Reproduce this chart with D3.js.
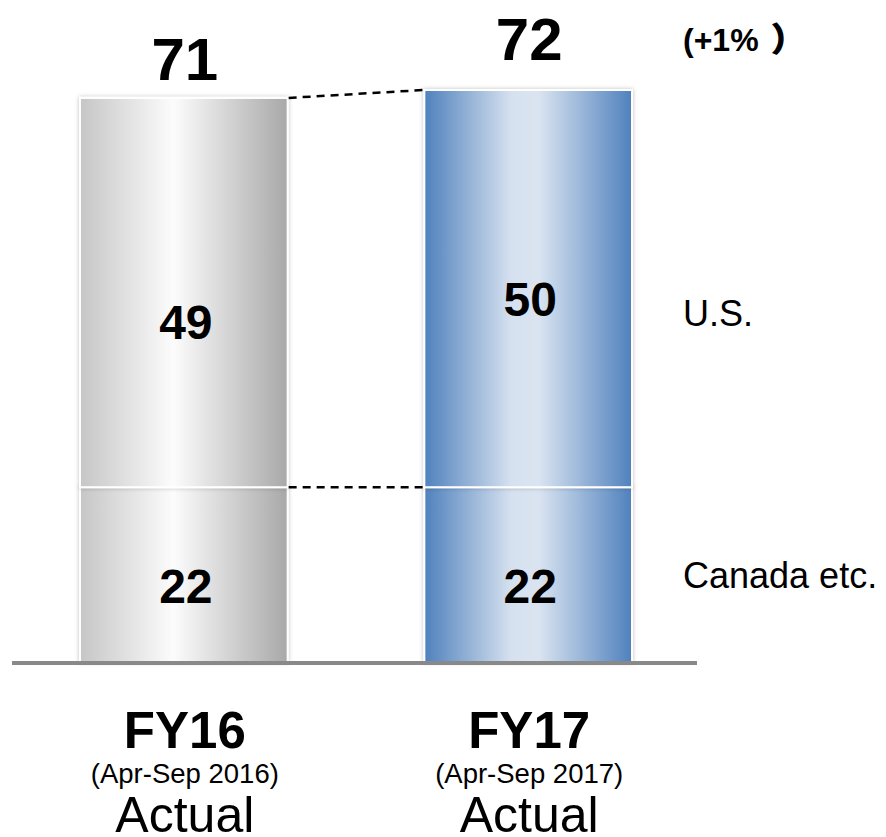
<!DOCTYPE html>
<html>
<head>
<meta charset="utf-8">
<script src="https://cdn.jsdelivr.net/npm/d3@7"></script>
<style>
  body { margin: 0; background: #fff; }
  text { font-family: "Liberation Sans", Arial, sans-serif; }
</style>
</head>
<body>
<svg width="886" height="837"></svg>
<script>
const periods = ['FY16', 'FY17'];
const subLabels = ['(Apr-Sep 2016)', '(Apr-Sep 2017)'];
const kindLabels = ['Actual', 'Actual'];
const regions = ['Canada etc.', 'U.S.'];
const canada = [22, 22];
const us = [49, 50];
const totals = [71, 72];
const growthLabel = ['(+1%', '）'];

const svg = d3.select('svg');

let data = periods.map(function (p, i) {
    return {period: p, canada: canada[i], us: us[i], total: totals[i]};
});

const x = d3.scaleBand().domain(periods).range([80, 632]).paddingInner(0.397).paddingOuter(0);
const y = d3.scaleLinear().domain([0, 72]).range([662, 90]);

// gradients
let defs = svg.append('defs');
let grads = [
    {id: 'g0', stops: [['0%', '#c6c6c6'], ['45%', '#fcfcfc'], ['100%', '#a8a8a8']]},
    {id: 'g1', stops: [['0%', '#4f81bd'], ['42%', '#d6e1ef'], ['55%', '#dae4f1'], ['100%', '#4f81bd']]}
];
grads.forEach(function (g) {
    let lg = defs.append('linearGradient').attr('id', g.id)
        .attr('x1', '0%').attr('x2', '100%').attr('y1', '0%').attr('y2', '0%');
    g.stops.forEach(function (s) {
        lg.append('stop').attr('offset', s[0]).attr('stop-color', s[1]);
    });
});
let f = defs.append('filter').attr('id', 'shadow').attr('x', '-10%').attr('y', '-10%').attr('width', '120%').attr('height', '120%');
f.append('feDropShadow').attr('dx', 0).attr('dy', 0).attr('stdDeviation', 2).attr('flood-color', '#000').attr('flood-opacity', 0.25);

let stack = d3.stack().keys(['canada', 'us']);
let series = stack(data);

// bars
let bars = svg.append('g');
series.forEach(function (s) {
    bars.selectAll(null)
        .data(s)
        .enter()
        .append('rect')
        .attr('x', d => x(d.data.period))
        .attr('y', d => y(d[1]))
        .attr('width', x.bandwidth())
        .attr('height', d => y(d[0]) - y(d[1]))
        .attr('fill', (d, i) => 'url(#g' + i + ')')
        .attr('stroke', '#fff')
        .attr('stroke-width', 2)
        .attr('filter', 'url(#shadow)');
});

// dashed connectors between bars
let x0 = x(periods[0]) + x.bandwidth(), x1 = x(periods[1]);
['canada', 'total'].forEach(function (k) {
    svg.append('line')
        .attr('x1', x0 + 1).attr('y1', y(data[0][k]))
        .attr('x2', x1 - 1).attr('y2', y(data[1][k]))
        .attr('stroke', '#000').attr('stroke-width', 2.5)
        .attr('stroke-dasharray', '8,6');
});

// axis baseline
svg.append('line')
    .attr('x1', 12).attr('x2', 697)
    .attr('y1', y(0) + 1).attr('y2', y(0) + 1)
    .attr('stroke', '#898989').attr('stroke-width', 4);

// segment value labels
let usNudge = [46, 27];
data.forEach(function (d, i) {
    let cx = x(d.period) + x.bandwidth() / 2 + 2;
    svg.append('text')
        .attr('x', cx).attr('y', (y(0) + y(d.canada)) / 2 + 28)
        .attr('text-anchor', 'middle')
        .attr('font-size', 48).attr('font-weight', 'bold')
        .text(d.canada);
    svg.append('text')
        .attr('x', cx).attr('y', (y(d.canada) + y(d.total)) / 2 + usNudge[i])
        .attr('text-anchor', 'middle')
        .attr('font-size', 48).attr('font-weight', 'bold')
        .text(d.us);
});

// totals above bars
let totalGap = [18, 30];
data.forEach(function (d, i) {
    svg.append('text')
        .attr('x', x(d.period) + x.bandwidth() / 2 + 1)
        .attr('y', y(d.total) - totalGap[i])
        .attr('text-anchor', 'middle')
        .attr('font-size', 60).attr('font-weight', 'bold')
        .text(d.total);
});
let g = svg.append('text')
    .attr('x', 683).attr('y', 51)
    .attr('font-size', 32).attr('font-weight', 'bold');
g.append('tspan').text(growthLabel[0]);
g.append('tspan').attr('x', 772).attr('font-family', '"Noto Sans CJK JP"')
    .attr('stroke', '#000').attr('stroke-width', 1.6).text(growthLabel[1]);

// region labels on the right
svg.append('text').attr('x', 683).attr('y', 326)
    .attr('font-size', 36).text(regions[1]);
svg.append('text').attr('x', 683).attr('y', 588)
    .attr('font-size', 36).text(regions[0]);

// category labels
periods.forEach(function (p, i) {
    let cx = x(p) + x.bandwidth() / 2 + 1;
    svg.append('text').attr('x', cx).attr('y', 748).attr('text-anchor', 'middle')
        .attr('font-size', 51).attr('font-weight', 'bold').text(p);
    svg.append('text').attr('x', cx).attr('y', 783).attr('text-anchor', 'middle')
        .attr('font-size', 27.5).text(subLabels[i]);
    svg.append('text').attr('x', cx).attr('y', 832).attr('text-anchor', 'middle')
        .attr('font-size', 50).text(kindLabels[i]);
});
</script>
</body>
</html>
